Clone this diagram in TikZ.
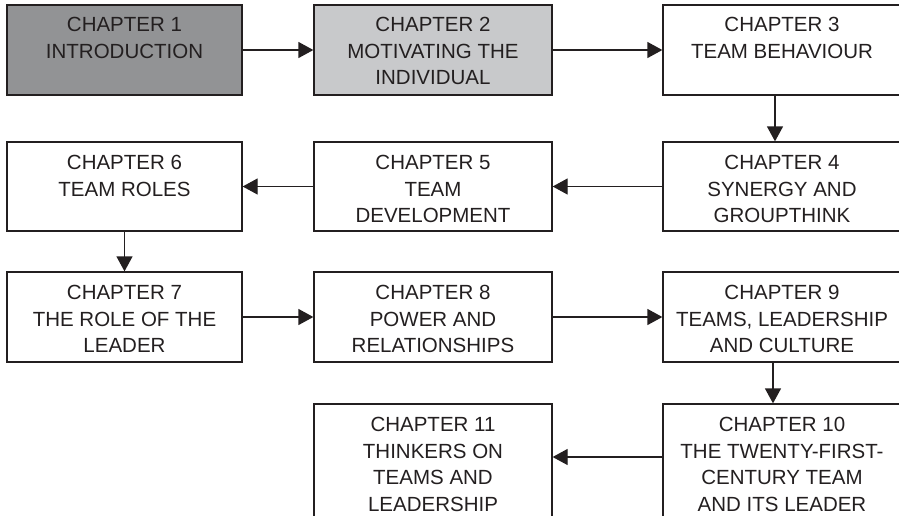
\documentclass[tikz,border=0pt]{standalone}
\usepackage{fontspec}
\setmainfont{Liberation Sans}
\usepackage{tikz}
\usetikzlibrary{arrows.meta}
\usetikzlibrary{positioning}
\definecolor{inkgray}{RGB}{35,31,32}
\definecolor{darkfill}{RGB}{146,147,149}
\definecolor{lightfill}{RGB}{200,201,203}

\begin{document}
\begin{tikzpicture}[
  chapbox/.style={shape=rectangle, draw=inkgray, line width=1.3pt, minimum width=235pt, minimum height=90pt, inner sep=0pt},
  chaptext/.style={align=center, text=inkgray, inner sep=0pt, font=\fontsize{20.5}{26.5}\selectfont},
  flow/.style={-{Triangle[length=15pt,width=16pt]}, line width=1.3pt, draw=inkgray, fill=inkgray}]
\useasboundingbox (0pt,0pt) rectangle (899pt,-515pt);
\clip (0pt,0pt) rectangle (899pt,-515pt);
% boxes, row by row
\node[chapbox, fill=darkfill] (c1) at (124.5pt,-50pt) {};
\node[chapbox, fill=lightfill, minimum width=238pt] (c2) at (433pt,-50pt) {};
\node[chapbox, minimum width=238pt] (c3) at (782pt,-50pt) {};
\node[chapbox, minimum width=238pt, minimum height=89pt] (c4) at (782pt,-186.5pt) {};
\node[chapbox, minimum width=238pt, minimum height=89pt] (c5) at (433pt,-186.5pt) {};
\node[chapbox, minimum height=89pt] (c6) at (124.5pt,-186.5pt) {};
\node[chapbox] (c7) at (124.5pt,-317pt) {};
\node[chapbox, minimum width=238pt] (c8) at (433pt,-317pt) {};
\node[chapbox, minimum width=238pt] (c9) at (782pt,-317pt) {};
\node[chapbox, minimum width=238pt, minimum height=114pt] (c10) at (782pt,-461pt) {};
\node[chapbox, minimum width=238pt, minimum height=114pt] (c11) at (433pt,-461pt) {};
% texts
\node[chaptext, below=13pt of c1.north] (t1) {CHAPTER 1\\INTRODUCTION};
\node[chaptext, below=13pt of c2.north] (t2) {CHAPTER 2\\MOTIVATING THE\\INDIVIDUAL};
\node[chaptext, below=13pt of c3.north] (t3) {CHAPTER 3\\TEAM BEHAVIOUR};
\node[chaptext, below=14pt of c4.north] (t4) {CHAPTER 4\\SYNERGY AND\\GROUPTHINK};
\node[chaptext, below=14pt of c5.north] (t5) {CHAPTER 5\\TEAM\\DEVELOPMENT};
\node[chaptext, below=14pt of c6.north] (t6) {CHAPTER 6\\TEAM ROLES};
\node[chaptext, below=14pt of c7.north] (t7) {CHAPTER 7\\THE ROLE OF THE\\LEADER};
\node[chaptext, below=14pt of c8.north] (t8) {CHAPTER 8\\POWER AND\\RELATIONSHIPS};
\node[chaptext, below=14pt of c9.north] (t9) {CHAPTER 9\\TEAMS, LEADERSHIP\\AND CULTURE};
\node[chaptext, below=14pt of c10.north] (t10) {CHAPTER 10\\THE TWENTY-FIRST-\\CENTURY TEAM\\AND ITS LEADER};
\node[chaptext, below=14pt of c11.north] (t11) {CHAPTER 11\\THINKERS ON\\TEAMS AND\\LEADERSHIP};
% arrows
\draw[flow] (c1.east) -- (c2.west);
\draw[flow] (c2.east) -- (c3.west);
\draw[flow] ([xshift=-7pt]c3.south) -- ([xshift=-7pt]c4.north);
\draw[flow] (c4.west) -- (c5.east);
\draw[flow] (c5.west) -- (c6.east);
\draw[flow] (c6.south) -- (c7.north);
\draw[flow] (c7.east) -- (c8.west);
\draw[flow] (c8.east) -- (c9.west);
\draw[flow] ([xshift=-9pt]c9.south) -- ([xshift=-9pt]c10.north);
\draw[flow] ([yshift=4pt]c10.west) -- ([yshift=4pt]c11.east);
\end{tikzpicture}
\end{document}
